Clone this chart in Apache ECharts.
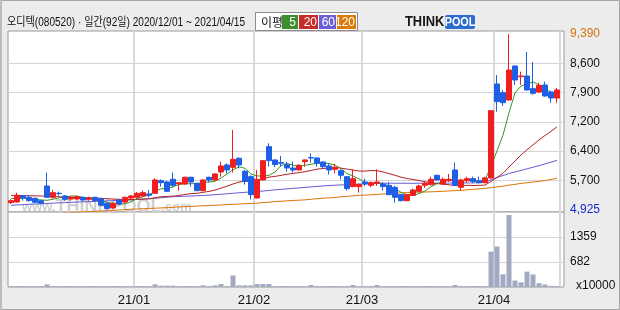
<!DOCTYPE html>
<html><head><meta charset="utf-8">
<script src="https://cdn.jsdelivr.net/npm/echarts@6/dist/echarts.min.js"></script>
<style>html,body{margin:0;padding:0;background:#ececec}#c{width:620px;height:310px}</style>
</head><body><div id="c"></div>
<script>
// trading days per month
const dec2020 = [1,2,3,4,7,8,9,10,11,14,15,16,17,18,21,22,23,24,28,29,30];
const jan2021 = [4,5,6,7,8,11,12,13,14,15,18,19,20,21,22,25,26,27,28,29];
const feb2021 = [1,2,3,4,5,8,9,10,15,16,17,18,19,22,23,24,25,26];
const mar2021 = [2,3,4,5,8,9,10,11,12,15,16,17,18,19,22,23,24,25,26,29,30,31];
const apr2021 = [1,2,5,6,7,8,9,12,13,14,15];

const opens = [5100,5116,5277,5235,5210,5150,5523,5235,5337,5269,
5193,5193,5235,5184,5235,5201,5082,4964,5167,5116,
5218,5235,5269,5320,5337,5659,5625,5693,5575,5575,
5744,5592,5405,5744,5676,5880,6058,5998,6227,5897,
5761,5218,5676,6524,6185,6117,6066,5981,5931,6142,
6244,6236,6134,6032,5948,5914,5761,5507,5507,5625,
5541,5592,5574,5540,5490,5303,5150,5286,5388,5540,
5557,5795,5574,5659,5930,5490,5659,5710,5659,5608,
5727,8118,7898,7711,8576,8305,8322,8000,7915,8093,
7915,7762];
const closes = [5150,5286,5218,5150,5108,5082,5235,5354,5329,5184,
5227,5252,5167,5218,5150,5032,4947,5082,5066,5235,
5269,5337,5354,5286,5676,5608,5388,5540,5608,5744,
5625,5405,5676,5676,5829,6032,5931,6202,6058,5642,
5303,5693,6168,6168,6070,6100,5981,5931,6049,6185,
6236,6100,6015,5931,5998,5795,5456,5710,5558,5574,
5608,5625,5507,5303,5235,5150,5303,5422,5523,5591,
5693,5676,5693,5693,5540,5676,5710,5642,5608,5727,
7440,7669,7643,8474,8220,8322,7966,7881,8084,7813,
7762,7966];
const lows = [5066,5099,5150,5125,5082,5066,5218,5201,5277,5150,
5150,5167,5150,5150,5133,5015,4925,4947,5049,5082,
5184,5201,5235,5235,5320,5507,5371,5490,5405,5558,
5507,5388,5388,5608,5659,5761,5846,5863,5973,5558,
5184,5201,5659,6015,6000,6015,5888,5863,5914,6015,
6117,6015,5965,5812,5846,5693,5405,5490,5354,5524,
5490,5524,5405,5286,5099,5133,5133,5269,5354,5473,
5540,5659,5557,5625,5524,5422,5608,5591,5591,5591,
5710,7414,7558,7694,8093,8093,7949,7847,7898,7796,
7643,7643];
const highs = [5184,5354,5294,5294,5227,5167,5863,5422,5379,5294,
5269,5269,5252,5252,5252,5227,5099,5099,5201,5252,
5294,5371,5405,5422,5719,5693,5659,5863,5608,5761,
5761,5608,5693,5761,5846,6143,6100,6948,6253,5931,
5795,5931,6185,6609,6202,6290,6142,6142,6083,6202,
6354,6253,6151,6100,6083,5948,5778,5948,5592,5710,
5642,5948,5625,5625,5524,5320,5320,5456,5557,5625,
5761,5812,5744,5829,6117,5710,5761,5761,5761,5761,
7440,8347,7966,9390,8593,8432,8932,8678,8152,8178,
7949,8017];
const ma5 = [5201,5205,5212,5200,5182,5169,5159,5186,5222,5237,
5266,5269,5232,5210,5203,5164,5103,5086,5055,5072,
5120,5198,5252,5296,5384,5452,5462,5500,5564,5578,
5581,5584,5612,5625,5642,5724,5829,5934,6010,5973,
5827,5780,5773,5795,5880,6040,6097,6050,6026,6049,
6076,6100,6117,6093,6056,5968,5839,5778,5703,5619,
5581,5615,5574,5523,5456,5364,5300,5283,5327,5398,
5506,5581,5635,5669,5659,5656,5662,5652,5635,5673,
6025,6417,6817,7391,7889,8066,8125,8173,8095,8013,
7901,7901];
const ma20 = [5285,5283,5280,5276,5272,5268,5262,5256,5250,5244,
5238,5232,5226,5220,5214,5208,5200,5192,5184,5176,
5180,5182,5189,5196,5224,5250,5258,5267,5281,5309,
5329,5337,5362,5385,5419,5469,5518,5574,5624,5644,
5646,5664,5705,5749,5768,5793,5823,5842,5864,5886,
5917,5952,5968,5981,5990,5978,5954,5929,5904,5901,
5916,5913,5880,5837,5795,5747,5713,5688,5662,5632,
5605,5584,5568,5556,5533,5527,5540,5536,5539,5546,
5638,5740,5847,6005,6155,6313,6446,6569,6697,6809,
6912,7026];
const ma60 = [5030,5040,5050,5058,5065,5070,5078,5088,5095,5100,
5108,5115,5120,5125,5130,5138,5145,5150,5158,5165,
5172,5180,5190,5198,5210,5225,5238,5248,5255,5262,
5268,5275,5283,5292,5302,5312,5325,5338,5350,5362,
5372,5382,5395,5410,5425,5438,5450,5462,5475,5488,
5500,5512,5525,5535,5543,5550,5556,5564,5572,5578,
5584,5589,5592,5594,5594,5593,5592,5592,5593,5594,
5595,5596,5597,5598,5598,5599,5600,5602,5606,5612,
5680,5740,5790,5840,5880,5920,5960,6000,6040,6085,
6130,6175];
const ma120 = [4760,4768,4777,4785,4794,4802,4811,4819,4828,4836,
4845,4853,4862,4870,4879,4887,4896,4904,4913,4921,
4930,4938,4945,4952,4958,4964,4972,4980,4990,4998,
5005,5012,5020,5025,5032,5042,5050,5057,5064,5072,
5080,5088,5100,5110,5125,5135,5145,5155,5162,5170,
5185,5200,5212,5222,5232,5248,5260,5272,5284,5292,
5298,5310,5320,5330,5338,5348,5355,5362,5366,5370,
5375,5380,5388,5398,5405,5412,5425,5438,5450,5465,
5480,5500,5520,5545,5565,5590,5605,5625,5640,5660,
5690,5720];
const volumes = [25,25,25,25,25,25,73,25,25,25,
25,25,25,25,25,25,25,25,25,25,
25,25,25,25,73,37,37,37,25,25,
25,25,46,25,46,83,25,321,46,46,
46,83,83,83,25,25,25,25,25,25,
55,25,25,25,25,25,25,55,25,25,
25,55,25,25,25,25,25,25,25,25,
25,25,25,25,55,25,25,25,25,25,
985,1130,355,2005,180,130,428,350,106,70,
32,28];
const priceTickLabels = ['4,925','5,700','6,400','7,200','7,900','8,600','9,390'];
const volTickLabels = ['','682','1359',''];
const maNames = ['5','20','60','120'];

const pad = n => (n < 10 ? '0' : '') + n;
const categories = [];
[[2020,12,dec2020],[2021,1,jan2021],[2021,2,feb2021],[2021,3,mar2021],[2021,4,apr2021]].forEach(([y,m,days]) => {
  days.forEach(d => categories.push(y + '-' + pad(m) + '-' + pad(d)));
});
const monthStarts = categories.map((c,i) => (i > 0 && c.slice(0,7) !== categories[i-1].slice(0,7)) ? i : -1).filter(i => i >= 0);
const isMonthStart = i => monthStarts.indexOf(i) >= 0;

const FONT = '"Liberation Sans", Arial, sans-serif';
const TFONT = '"Liberation Sans", "Noto Sans CJK KR", sans-serif';
const KFONT = '"Noto Sans CJK KR", sans-serif';
const C_UP = '#f01e1e', C_DN = '#1f5fe6';
const MA_COLORS = ['#3a9526','#b52424','#6a5cd8','#dd7508'];
const LEG_COLORS = ['#3e8e2e','#c62b27','#6b5fd9','#d97a0b'];

const chart = echarts.init(document.getElementById('c'), null, {renderer:'canvas'});
const vSplit = {show:true, interval:(i)=>isMonthStart(i), lineStyle:{color:'#d9d9d9', width:2}};
const hid = {show:false};

const option = {
  animation:false,
  backgroundColor:'#ececec',
  grid:[
    {left:8, top:31, width:552, height:181},
    {left:8, top:31, width:556, height:181, show:true, backgroundColor:'#fff', borderColor:'#9a9a9a', borderWidth:1},
    {left:8, top:34, width:556, height:175.5},
    {left:8, top:212, width:552, height:75},
    {left:8, top:212, width:556, height:75, show:true, backgroundColor:'#fff', borderColor:'#9a9a9a', borderWidth:1}
  ],
  xAxis:[
    {gridIndex:0, type:'category', data:categories, boundaryGap:true, axisLine:hid, axisTick:hid, axisLabel:hid, splitLine:vSplit},
    {gridIndex:1, type:'value', min:0, max:1, show:false},
    {gridIndex:2, type:'value', min:0, max:1, show:false},
    {gridIndex:3, type:'category', data:categories, boundaryGap:true, axisLine:hid, axisTick:hid,
      axisLabel:{show:true, interval:(i)=>isMonthStart(i), formatter:(v)=>v.slice(2,4)+'/'+v.slice(5,7),
        fontSize:13, fontFamily:FONT, color:'#111', margin:7, padding:[0,6,0,0]},
      splitLine:vSplit},
    {gridIndex:4, type:'value', min:0, max:1, show:false}
  ],
  yAxis:[
    {gridIndex:0, type:'value', min:4861.4, max:9466.3, show:false},
    {gridIndex:1, type:'value', min:0, max:1, show:false},
    {gridIndex:2, type:'category', data:priceTickLabels, boundaryGap:false, position:'right',
      axisLine:hid, axisTick:hid,
      axisLabel:{show:true, interval:0, margin:6, fontSize:12, fontFamily:FONT, color:'#111',
        formatter:(v,i)=> i===6 ? '{o|'+v+'}' : (i===0 ? '{b|'+v+'}' : v),
        rich:{o:{color:'#d2740a', fontSize:12, fontFamily:FONT}, b:{color:'#1a28c8', fontSize:12, fontFamily:FONT}}},
      splitLine:{show:true, interval:(i)=> i>0 && i<6, lineStyle:{color:'#d4d4d4', width:1}}},
    {gridIndex:3, type:'value', min:0, max:2090, show:false},
    {gridIndex:4, type:'category', data:volTickLabels, boundaryGap:false, position:'right',
      axisLine:hid, axisTick:hid,
      axisLabel:{show:true, interval:0, margin:6, fontSize:12, fontFamily:FONT, color:'#111'},
      splitLine:{show:true, interval:(i)=> i===1 || i===2, lineStyle:{color:'#d4d4d4', width:1}}}
  ],
  series:[
    {type:'line', name:maNames[3], xAxisIndex:0, yAxisIndex:0, data:ma120, symbol:'none', z:3, clip:true,
      lineStyle:{color:MA_COLORS[3], width:1}},
    {type:'line', name:maNames[2], xAxisIndex:0, yAxisIndex:0, data:ma60, symbol:'none', z:3, clip:true,
      lineStyle:{color:MA_COLORS[2], width:1}},
    {type:'line', name:maNames[1], xAxisIndex:0, yAxisIndex:0, data:ma20, symbol:'none', z:3, clip:true,
      lineStyle:{color:MA_COLORS[1], width:1}},
    {type:'line', name:maNames[0], xAxisIndex:0, yAxisIndex:0, data:ma5, symbol:'none', z:3, clip:true,
      lineStyle:{color:MA_COLORS[0], width:1}},
    {type:'candlestick', xAxisIndex:0, yAxisIndex:0, z:5, barWidth:5,
      data: opens.map((o,i)=>[o, closes[i], lows[i], highs[i]]),
      itemStyle:{color:C_UP, color0:C_DN, borderColor:C_UP, borderColor0:C_DN, borderWidth:1}},
    {type:'bar', xAxisIndex:3, yAxisIndex:3, data:volumes, barWidth:5, z:3,
      itemStyle:{color:'#a2aac2'}}
  ],
  graphic:{elements:[
    {type:'rect', z:100, shape:{x:0.5,y:0.5,width:619,height:309}, style:{fill:'none', stroke:'#a6a6a6', lineWidth:1}},
    {type:'rect', z:100, shape:{x:0,y:0,width:2,height:310}, style:{fill:'#bcbcbc'}},
    {type:'text', z:100, x:7, y:23, scaleX:0.84, style:{text:'오디텍(080520) · 일간(92일) 2020/12/01 ~ 2021/04/15', font:'12px '+TFONT, fill:'#111', verticalAlign:'middle'}},
    {type:'rect', z:100, shape:{x:255.5,y:12.5,width:102,height:18}, style:{fill:'#fff', stroke:'#8c8c8c', lineWidth:1}},
    {type:'text', z:101, x:261, y:22, style:{text:'이평', font:'12px '+KFONT, fill:'#111', verticalAlign:'middle'}},
    {type:'rect', z:101, shape:{x:282,y:15,width:16,height:14}, style:{fill:LEG_COLORS[0]}},
    {type:'text', z:102, x:296, y:22.5, style:{text:maNames[0], font:'12px '+FONT, fill:'#fff', align:'right', verticalAlign:'middle'}},
    {type:'rect', z:101, shape:{x:299,y:15,width:19,height:14}, style:{fill:LEG_COLORS[1]}},
    {type:'text', z:102, x:317, y:22.5, style:{text:maNames[1], font:'12px '+FONT, fill:'#fff', align:'right', verticalAlign:'middle'}},
    {type:'rect', z:101, shape:{x:319,y:15,width:17,height:14}, style:{fill:LEG_COLORS[2]}},
    {type:'text', z:102, x:335, y:22.5, style:{text:maNames[2], font:'12px '+FONT, fill:'#fff', align:'right', verticalAlign:'middle'}},
    {type:'rect', z:101, shape:{x:337,y:15,width:19,height:14}, style:{fill:LEG_COLORS[3]}},
    {type:'text', z:102, x:355, y:22.5, style:{text:maNames[3], font:'12px '+FONT, fill:'#fff', align:'right', verticalAlign:'middle'}},
    {type:'text', z:101, x:405, y:22, scaleX:0.92, style:{text:'THINK', font:'bold 14px '+FONT, fill:'#161616', verticalAlign:'middle', shadowColor:'rgba(0,0,0,0.35)', shadowOffsetX:1, shadowOffsetY:1, shadowBlur:1}},
    {type:'rect', z:101, shape:{x:445,y:15,width:30,height:14, r:2}, style:{fill:'#2c6bd0'}},
    {type:'text', z:102, x:460, y:22.5, scaleX:0.9, style:{text:'POOL', font:'bold 12px '+FONT, fill:'#fff', align:'center', verticalAlign:'middle'}},
    {type:'text', z:1, x:22, y:207, style:{text:'{a|www.}{b|THINKPOOL}{a|.com}', verticalAlign:'middle',
      rich:{a:{fontSize:13, fontFamily:FONT, fill:'#d0d0d0', fontWeight:'bold'}, b:{fontSize:18, fontFamily:FONT, fontWeight:'bold', fill:'#d0d0d0'}}}},
    {type:'text', z:100, x:576, y:286, style:{text:'x10000', font:'12px '+FONT, fill:'#111', verticalAlign:'middle'}}
  ]}
};
chart.setOption(option);
</script></body></html>
